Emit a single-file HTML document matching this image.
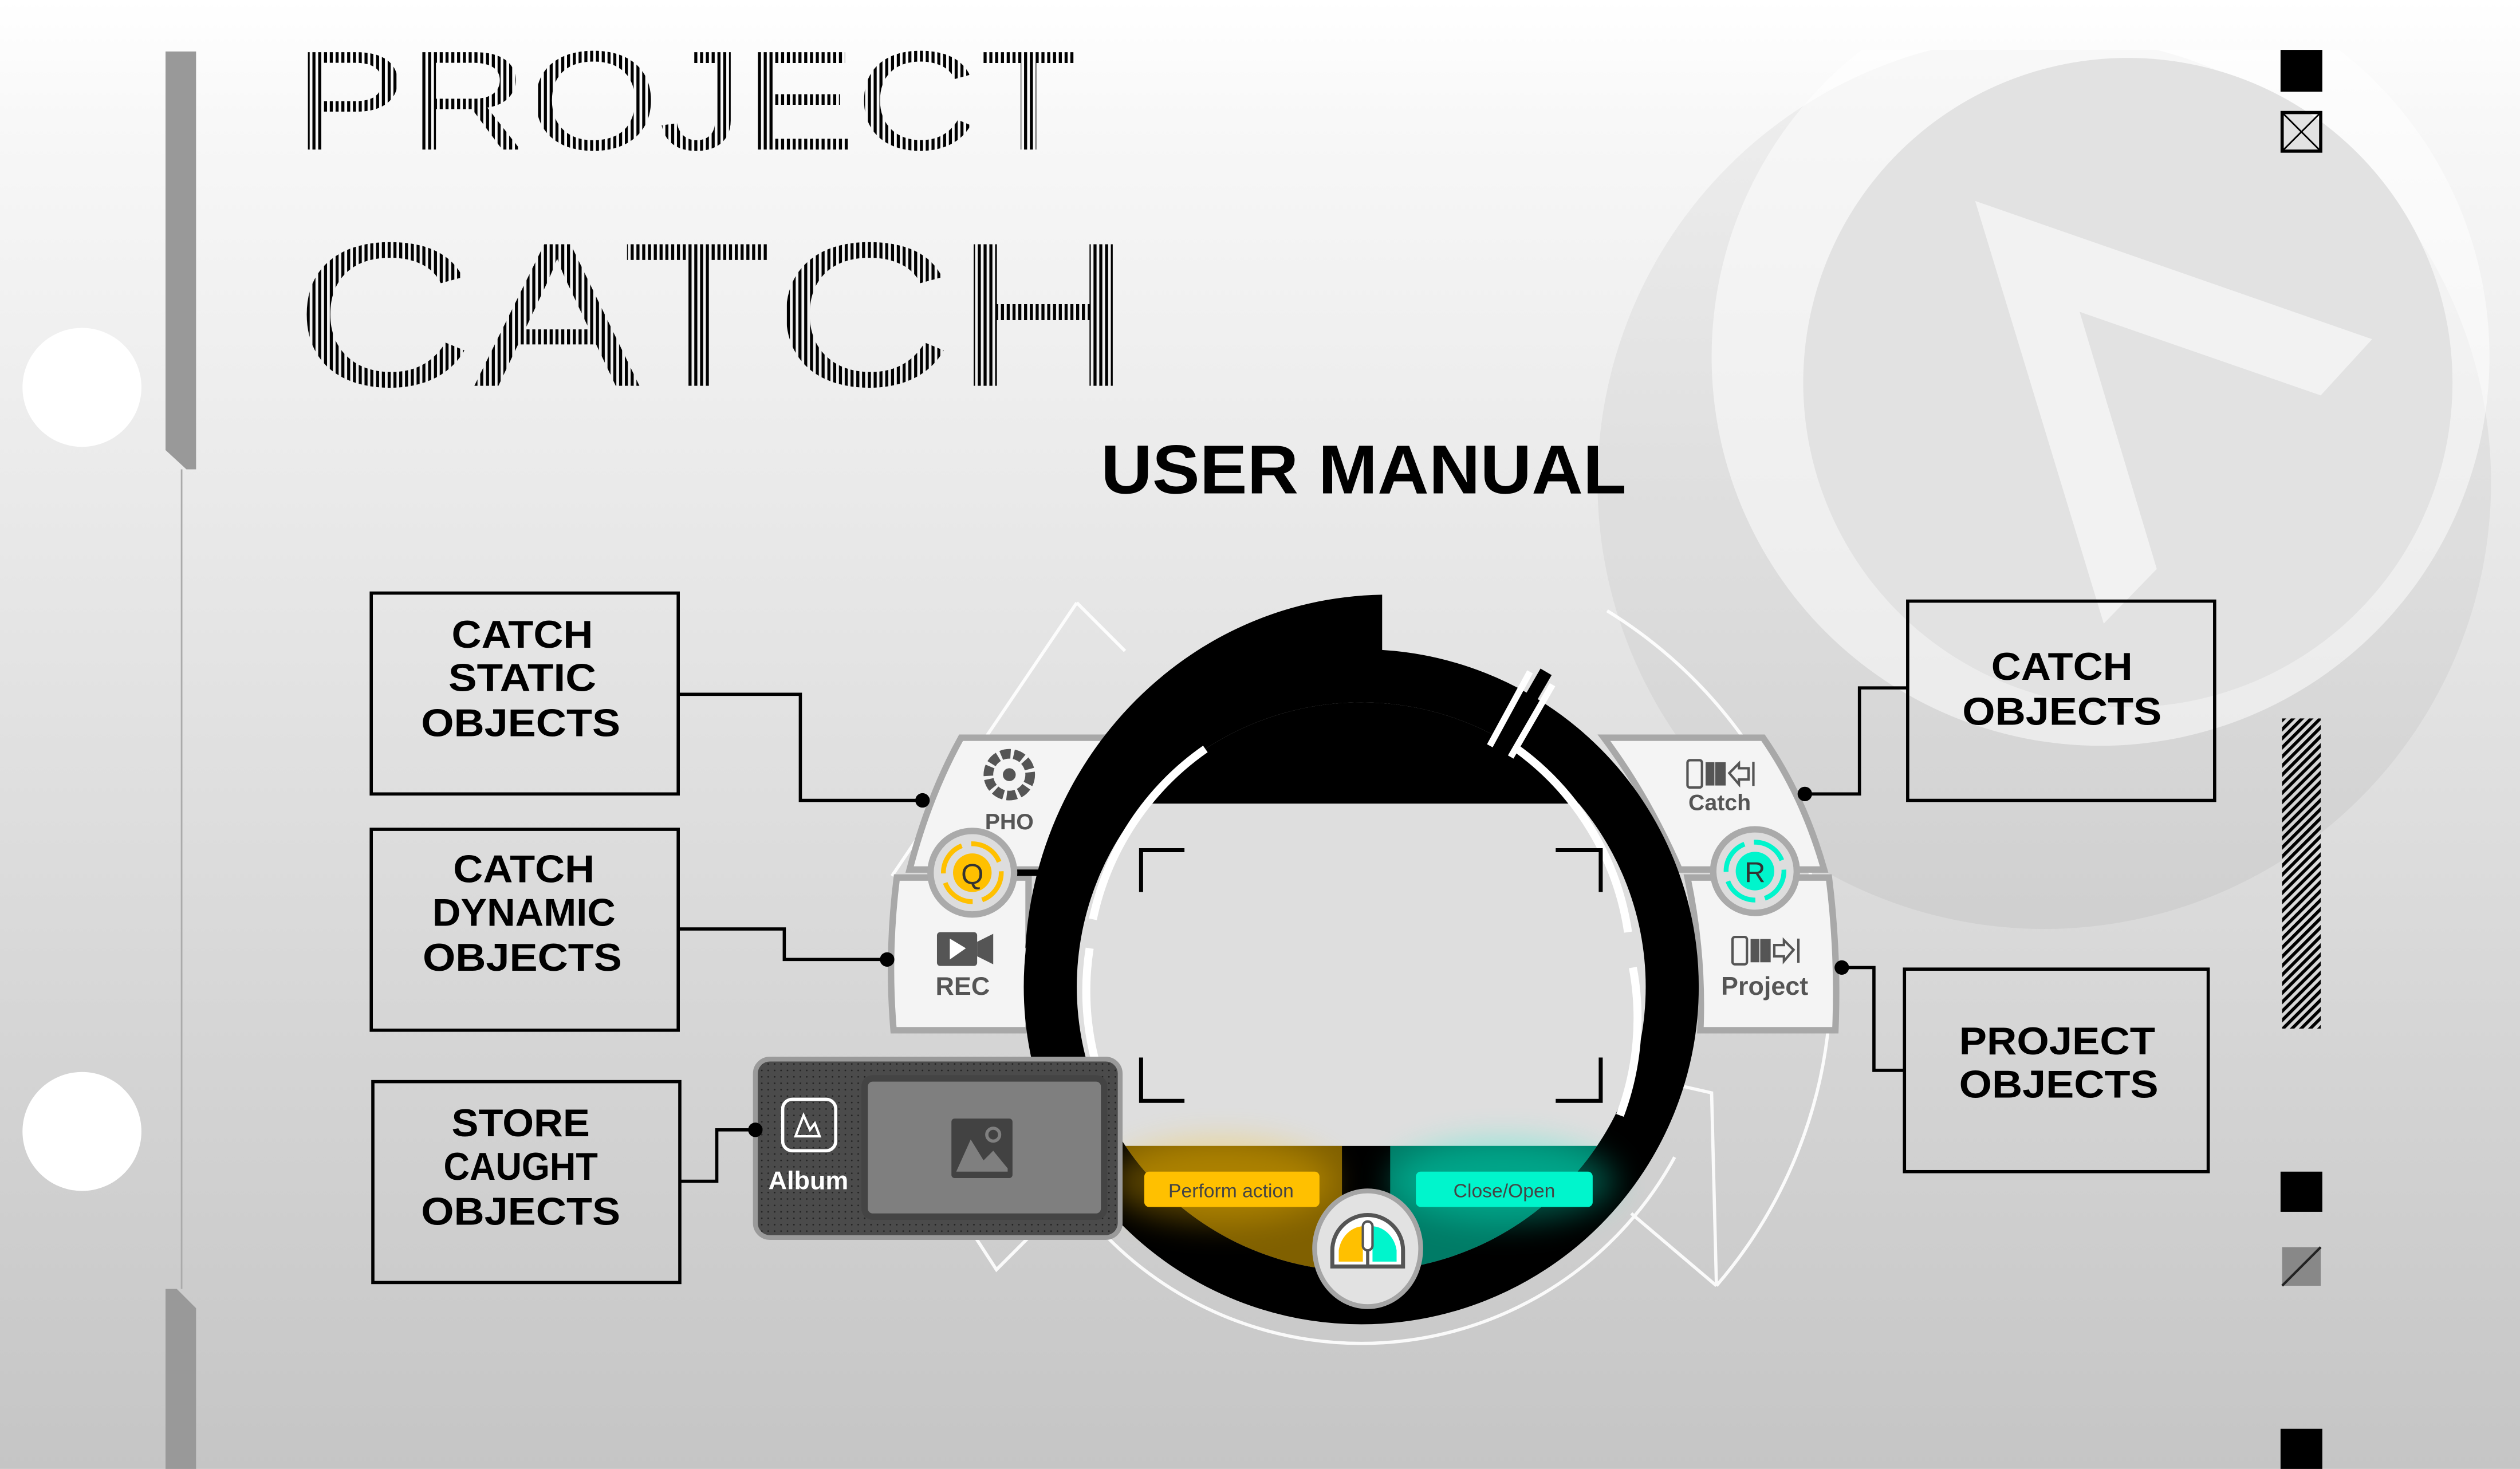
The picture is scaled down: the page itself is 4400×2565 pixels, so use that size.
<!DOCTYPE html>
<html><head><meta charset="utf-8"><style>
html,body{margin:0;padding:0;background:#fff;}
svg{display:block;}
</style></head><body>
<svg width="4400" height="2565" viewBox="0 0 1568 914" xmlns="http://www.w3.org/2000/svg">
<defs>
<linearGradient id="bg" x1="0" y1="0" x2="0" y2="1">
<stop offset="0" stop-color="#ffffff"/><stop offset="0.08" stop-color="#f8f8f8"/><stop offset="1" stop-color="#c5c5c5"/>
</linearGradient>
<pattern id="vs" width="3.6" height="10" patternUnits="userSpaceOnUse"><rect width="1.9" height="10" fill="#000"/></pattern>
<pattern id="hatch" width="4" height="4" patternUnits="userSpaceOnUse" patternTransform="rotate(45)"><rect width="2" height="4" fill="#000"/></pattern>
<filter id="blur" x="-50%" y="-50%" width="200%" height="200%"><feGaussianBlur stdDeviation="10"/></filter>
<clipPath id="inner"><circle cx="847" cy="614" r="177"/></clipPath>
<clipPath id="logoclip"><rect x="0" y="31" width="1568" height="900"/></clipPath>
<pattern id="dots" width="4" height="4" patternUnits="userSpaceOnUse"><rect width="4" height="4" fill="#4b4b4b"/><circle cx="2" cy="2" r="0.5" fill="#222"/></pattern>
</defs>
<rect width="1568" height="914" fill="url(#bg)"/>

<g clip-path="url(#logoclip)">
<circle cx="1272" cy="300" r="278" fill="#000" opacity="0.045"/>
<circle cx="1307" cy="222" r="242" fill="#fff" opacity="0.5"/>
<circle cx="1324" cy="238" r="202" fill="#e2e2e2"/>
<polygon points="1229,125 1476,211 1444,246 1294,194 1342,354 1309,388" fill="#fff" opacity="0.55"/>
</g>

<polygon points="103,32 122,32 122,292 116,292 103,280" fill="#999"/>
<polygon points="103,802 110,802 122,814 122,914 103,914" fill="#999"/>
<line x1="113" y1="292" x2="113" y2="802" stroke="#aaa" stroke-width="1"/>
<circle cx="51" cy="241" r="37" fill="#fff"/>
<circle cx="51" cy="704" r="37" fill="#fff"/>

<rect x="1419" y="31" width="26" height="26" fill="#000"/>
<rect x="1420" y="70" width="24" height="24" fill="none" stroke="#000" stroke-width="2"/>
<line x1="1420" y1="70" x2="1444" y2="94" stroke="#000" stroke-width="1"/>
<line x1="1444" y1="70" x2="1420" y2="94" stroke="#000" stroke-width="1"/>
<rect x="1420" y="447" width="24" height="193" fill="url(#hatch)"/>
<rect x="1419" y="729" width="26" height="25" fill="#000"/>
<rect x="1420" y="776" width="24" height="24" fill="#888"/>
<line x1="1420" y1="800" x2="1444" y2="776" stroke="#222" stroke-width="1.5"/>
<rect x="1419" y="889" width="26" height="25" fill="#000"/>

<text x="183" y="93" font-family="Liberation Sans, sans-serif" font-size="88" textLength="489" lengthAdjust="spacingAndGlyphs" fill="url(#vs)">PROJECT</text>
<text x="183" y="240" font-family="Liberation Sans, sans-serif" font-size="128" textLength="522" lengthAdjust="spacingAndGlyphs" fill="url(#vs)">CATCH</text>
<text x="685" y="307" font-family="Liberation Sans, sans-serif" font-weight="bold" font-size="43" textLength="327" lengthAdjust="spacingAndGlyphs" fill="#000">USER MANUAL</text>

<g fill="none" stroke="#000" stroke-width="2">
<rect x="231" y="369" width="191" height="125"/>
<rect x="231" y="516" width="191" height="125"/>
<rect x="232" y="673" width="191" height="125"/>
<rect x="1187" y="374" width="191" height="124"/>
<rect x="1185" y="603" width="189" height="126"/>
<polyline points="422,432 498,432 498,498 574,498"/>
<polyline points="422,578 488,578 488,597 552,597"/>
<polyline points="423,735 446,735 446,703 470,703"/>
<polyline points="1187,428 1157,428 1157,494 1123,494"/>
<polyline points="1146,602 1166,602 1166,666 1185,666"/>
</g>
<g font-family="Liberation Sans, sans-serif" font-weight="bold" font-size="24" fill="#000" text-anchor="middle">
<text x="325" y="403" textLength="88" lengthAdjust="spacingAndGlyphs">CATCH</text>
<text x="325" y="430" textLength="92" lengthAdjust="spacingAndGlyphs">STATIC</text>
<text x="324" y="458" textLength="124" lengthAdjust="spacingAndGlyphs">OBJECTS</text>
<text x="326" y="549" textLength="88" lengthAdjust="spacingAndGlyphs">CATCH</text>
<text x="326" y="576" textLength="114" lengthAdjust="spacingAndGlyphs">DYNAMIC</text>
<text x="325" y="604" textLength="124" lengthAdjust="spacingAndGlyphs">OBJECTS</text>
<text x="324" y="707" textLength="86" lengthAdjust="spacingAndGlyphs">STORE</text>
<text x="324" y="734" textLength="96" lengthAdjust="spacingAndGlyphs">CAUGHT</text>
<text x="324" y="762" textLength="124" lengthAdjust="spacingAndGlyphs">OBJECTS</text>
<text x="1283" y="423" textLength="88" lengthAdjust="spacingAndGlyphs">CATCH</text>
<text x="1283" y="451" textLength="124" lengthAdjust="spacingAndGlyphs">OBJECTS</text>
<text x="1280" y="656" textLength="122" lengthAdjust="spacingAndGlyphs">PROJECT</text>
<text x="1281" y="683" textLength="124" lengthAdjust="spacingAndGlyphs">OBJECTS</text>
</g>

<g fill="none" stroke="#fff" stroke-width="2" opacity="0.9">
<path d="M 670,375 L 555,545"/>
<path d="M 670,375 L 700,405"/>
<path d="M 555,690 L 620,790 L 645,765"/>
<path d="M 1000,380 A 292 292 0 0 1 1139,620"/>
<path d="M 1139,620 A 292 292 0 0 1 1068,800"/>
<path d="M 1068,800 L 1015,755"/>
<path d="M 1030,672 L 1065,680 L 1068,800"/>
<path d="M 652,720 A 222 222 0 0 0 1042,720"/>
</g>

<g stroke="#a8a8a8" stroke-width="4" fill="#f4f4f4">
<path d="M 598,459 L 697,459 L 650,541 L 566,541 Q 578,495 598,459 Z"/>
<path d="M 558,546 L 640,546 L 640,641 L 556,641 Q 552,594 558,546 Z"/>
<path d="M 998,459 L 1097,459 Q 1122,495 1135,541 L 1045,541 Q 1025,495 998,459 Z"/>
<path d="M 1050,546 L 1138,546 Q 1144,594 1142,641 L 1058,641 Q 1060,594 1050,546 Z"/>
</g>

<circle cx="847" cy="614" r="193" fill="none" stroke="#000" stroke-width="34"/>
<path d="M 638,590 C 645,470 740,372 860,370 L 860,412 L 700,470 Z" fill="#000"/>
<circle cx="847" cy="614" r="177" fill="#dedede"/>
<g clip-path="url(#inner)">
<rect x="600" y="400" width="500" height="100" fill="#000"/>
<rect x="600" y="713" width="500" height="120" fill="#000"/>
<rect x="600" y="713" width="235" height="120" fill="#ffc000" opacity="0.5"/>
<rect x="865" y="713" width="240" height="120" fill="#00f5cc" opacity="0.5"/>
<path d="M 690,713 Q 730,780 800,798" fill="none" stroke="#f0d070" stroke-width="8"/>
<path d="M 1005,713 Q 965,780 900,798" fill="none" stroke="#70f0d0" stroke-width="8"/>
</g>
<ellipse cx="760" cy="735" rx="70" ry="25" fill="#ffc000" opacity="0.35" filter="url(#blur)"/>
<ellipse cx="935" cy="735" rx="70" ry="25" fill="#00f5cc" opacity="0.35" filter="url(#blur)"/>
<g fill="none" stroke="#fff" stroke-width="5">
<path d="M 750,466 A 172 172 0 0 0 680,572"/>
<path d="M 678,590 A 172 172 0 0 0 688,680"/>
<path d="M 944,466 A 172 172 0 0 1 1013,580"/>
<path d="M 1016,602 A 172 172 0 0 1 1008,694"/>
</g>
<line x1="927" y1="464" x2="952" y2="418" stroke="#fff" stroke-width="4"/>
<line x1="940" y1="471" x2="966" y2="426" stroke="#fff" stroke-width="4"/>
<line x1="933" y1="468" x2="962" y2="418" stroke="#000" stroke-width="8"/>
<g fill="none" stroke="#000" stroke-width="2.5">
<polyline points="710,555 710,529 737,529"/>
<polyline points="968,529 996,529 996,555"/>
<polyline points="710,658 710,685 737,685"/>
<polyline points="968,685 996,685 996,658"/>
</g>
<line x1="627" y1="543" x2="652" y2="543" stroke="#000" stroke-width="4"/>

<circle cx="605" cy="543" r="26" fill="#ddd" stroke="#aaa" stroke-width="4"/>
<circle cx="605" cy="543" r="18" fill="none" stroke="#ffc000" stroke-width="3" stroke-dasharray="22 6"/>
<circle cx="605" cy="543" r="12" fill="#ffc000"/>
<text x="605" y="550" font-family="Liberation Sans, sans-serif" font-size="18" text-anchor="middle" fill="#333">Q</text>
<circle cx="1092" cy="542" r="26" fill="#ddd" stroke="#aaa" stroke-width="4"/>
<circle cx="1092" cy="542" r="18" fill="none" stroke="#00f5cc" stroke-width="3" stroke-dasharray="22 6"/>
<circle cx="1092" cy="542" r="12" fill="#00f5cc"/>
<text x="1092" y="549" font-family="Liberation Sans, sans-serif" font-size="18" text-anchor="middle" fill="#333">R</text>

<circle cx="628" cy="482" r="13" fill="none" stroke="#555" stroke-width="6" stroke-dasharray="6 2"/>
<circle cx="628" cy="482" r="4" fill="#555"/>
<text x="628" y="516" font-family="Liberation Sans, sans-serif" font-weight="bold" font-size="14" text-anchor="middle" fill="#555">PHO</text>
<rect x="583" y="580" width="25" height="21" rx="2" fill="#555"/>
<polygon points="608,586 618,581 618,600 608,595" fill="#555"/>
<polygon points="591,584 591,597 601,590" fill="#fff"/>
<text x="599" y="619" font-family="Liberation Sans, sans-serif" font-weight="bold" font-size="16" text-anchor="middle" fill="#555">REC</text>
<g stroke="#555" stroke-width="1.5" fill="none">
<rect x="1050" y="473" width="9" height="17" rx="1.5"/><rect x="1062" y="475" width="4" height="13" fill="#555"/><rect x="1068" y="475" width="5" height="13" fill="#555"/>
<path d="M 1076,481 L 1082,475 L 1082,478 L 1088,478 L 1088,485 L 1082,485 L 1082,488 Z"/><line x1="1091" y1="474" x2="1091" y2="489"/>
<rect x="1078" y="583" width="9" height="17" rx="1.5"/><rect x="1090" y="585" width="4" height="13" fill="#555"/><rect x="1096" y="585" width="5" height="13" fill="#555"/>
<path d="M 1116,591 L 1110,585 L 1110,588 L 1104,588 L 1104,595 L 1110,595 L 1110,598 Z"/><line x1="1119" y1="584" x2="1119" y2="599"/>
</g>
<text x="1070" y="504" font-family="Liberation Sans, sans-serif" font-weight="bold" font-size="14" text-anchor="middle" fill="#555">Catch</text>
<text x="1098" y="619" font-family="Liberation Sans, sans-serif" font-weight="bold" font-size="16" text-anchor="middle" fill="#555">Project</text>

<rect x="470" y="659" width="227" height="111" rx="9" fill="url(#dots)" stroke="#9a9a9a" stroke-width="3"/>
<rect x="538" y="671" width="149" height="86" rx="5" fill="#7f7f7f" stroke="#444" stroke-width="4"/>
<rect x="592" y="696" width="38" height="37" rx="2" fill="#424242"/>
<polygon points="595,729 604,709 612,722 618,716 627,727 627,729" fill="#7f7f7f"/>
<circle cx="618" cy="706" r="4" fill="none" stroke="#7f7f7f" stroke-width="2"/>
<rect x="487" y="684" width="33" height="32" rx="6" fill="none" stroke="#fff" stroke-width="2"/>
<path d="M 495,707 L 500,694 L 504,703 L 507,699 L 510,707 Z" fill="none" stroke="#fff" stroke-width="1.5"/>
<text x="503" y="740" font-family="Liberation Sans, sans-serif" font-weight="bold" font-size="16" text-anchor="middle" fill="#fff">Album</text>

<rect x="712" y="729" width="109" height="22" rx="3" fill="#ffc000"/>
<text x="766" y="745" font-family="Liberation Sans, sans-serif" font-size="12" text-anchor="middle" fill="#444">Perform action</text>
<rect x="881" y="729" width="110" height="22" rx="3" fill="#00f5cc"/>
<text x="936" y="745" font-family="Liberation Sans, sans-serif" font-size="12" text-anchor="middle" fill="#444">Close/Open</text>

<ellipse cx="851" cy="777" rx="33" ry="36" fill="#e2e2e2" stroke="#a5a5a5" stroke-width="3"/>
<path d="M 829,788 L 829,778 A 22 22 0 0 1 873,778 L 873,788 Z" fill="#fff" stroke="#555" stroke-width="2.5"/>
<path d="M 833,785 L 833,778 A 16 18 0 0 1 848,763 L 848,785 Z" fill="#ffc000"/>
<path d="M 869,785 L 869,778 A 16 18 0 0 0 854,763 L 854,785 Z" fill="#00f5cc"/>
<rect x="848" y="760" width="6" height="18" rx="3" fill="#fff" stroke="#555" stroke-width="1.5"/>
<line x1="851" y1="778" x2="851" y2="788" stroke="#555" stroke-width="2"/>

<g fill="#000">
<circle cx="574" cy="498" r="4.5"/><circle cx="552" cy="597" r="4.5"/><circle cx="470" cy="703" r="4.5"/>
<circle cx="1123" cy="494" r="4.5"/><circle cx="1146" cy="602" r="4.5"/>
</g>
</svg>
</body></html>
